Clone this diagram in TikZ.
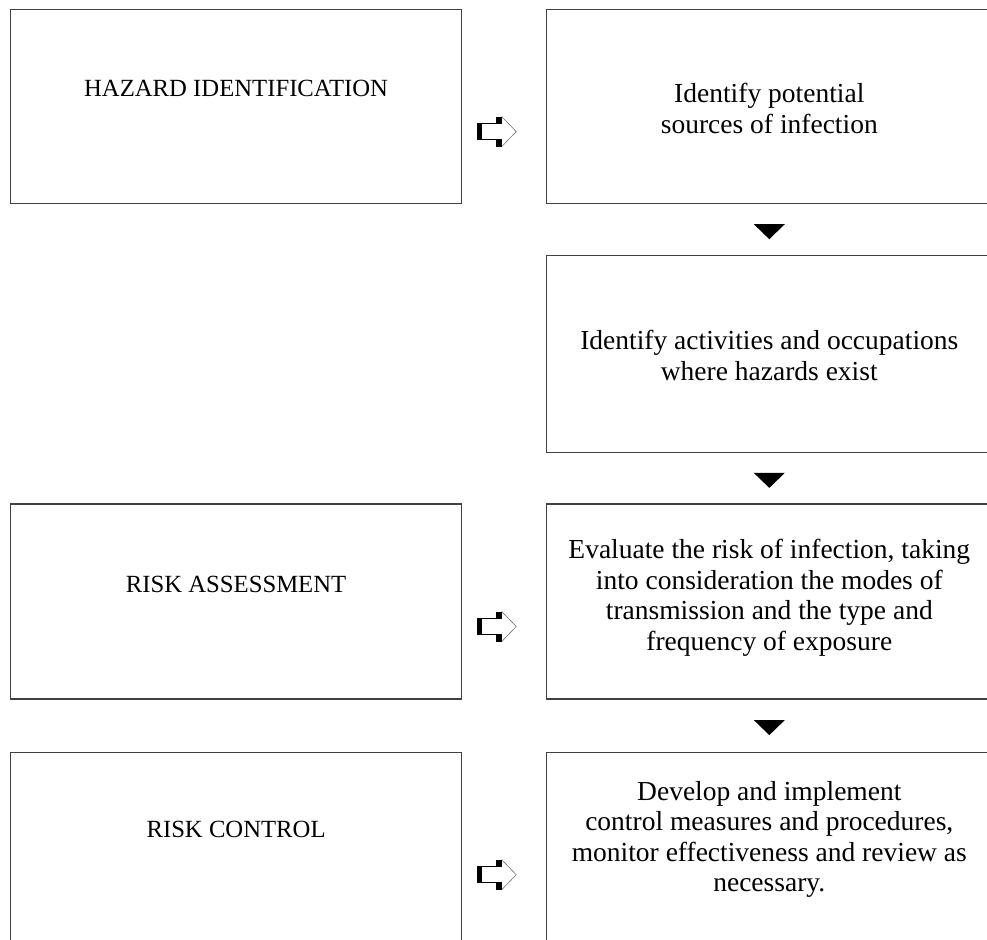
\documentclass[tikz,border=0pt]{standalone}
\usepackage{fontspec}
\setmainfont{Liberation Serif}
\usetikzlibrary{positioning,calc}

\tikzset{
  box/.style={draw=black!75, line width=1.2pt, inner sep=0pt},
  lbox/.style={box, minimum width=451pt},
  rbox/.style={box, minimum width=445pt},
  lbl/.style={font=\fontsize{27.5}{30.5}\selectfont, align=center, inner sep=0pt},
  caps/.style={font=\fontsize{24.7}{30}\selectfont, inner sep=0pt},
  pics/openarrow/.style={code={
    \draw[black!55, line width=0.6pt] (5,-15) -- (19.5,0) -- (5,15);
    \draw[black, line width=1pt] (0,-8) -- (-19.5,-8) -- (-19.5,8) -- (0,8);
    \fill[black] (-19.5,-8.5) rectangle (-15,8.5);
    \fill[black] (-0.5,-15) rectangle (5,-7.5);
    \fill[black] (-0.5,7.5) rectangle (5,15);
  }}
}

\begin{document}
\begin{tikzpicture}[x=1pt,y=-1pt]
\useasboundingbox (0,0) rectangle (987,939);
\clip (0,0) rectangle (987,939);
% boxes
\node[lbox, minimum height=194pt, anchor=north west] (l1) at (10,9) {};
\node[rbox, minimum height=194pt, right=84pt of l1] (r1) {};
\node[rbox, minimum height=197pt, below=51pt of r1] (r2) {};
\node[rbox, minimum height=195pt, below=50pt of r2] (r3) {};
\node[lbox, minimum height=195pt, left=84pt of r3] (l3) {};
\node[rbox, minimum height=195pt, below=52pt of r3] (r4) {};
\node[lbox, minimum height=195pt, left=84pt of r4] (l4) {};
% texts
\node[caps] (hazard) at ($(l1.center)+(0,-18)$) {HAZARD IDENTIFICATION};
\node[caps] (assess) at ($(l3.center)+(0,-17)$) {RISK ASSESSMENT};
\node[caps] (control) at ($(l4.center)+(0,-20)$) {RISK CONTROL};
\node[lbl] (sources) at ($(r1.center)+(0,2)$) {Identify potential\\sources of infection};
\node[lbl] (activities) at ($(r2.center)+(0,1)$) {Identify activities and occupations\\where hazards exist};
\node[lbl] (evaluate) at ($(r3.center)+(0,-3.5)$) {Evaluate the risk of infection, taking\\into consideration the modes of\\transmission and the type and\\frequency of exposure};
\node[lbl] (develop) at ($(r4.center)+(0,-10.5)$) {Develop and implement\\control measures and procedures,\\monitor effectiveness and review as\\necessary.};
% down triangles
\coordinate (t1) at ($(r1.south)!.5!(r2.north)$);
\coordinate (t2) at ($(r2.south)!.5!(r3.north)$);
\coordinate (t3) at ($(r3.south)!.5!(r4.north)$);
\foreach \t in {t1,t2,t3}
  \fill (\t) ++(-15.5,-5.5) -- ++(31,0) -- ++(-15.5,15) -- cycle;
% block arrows
\pic at ($(l1.east)!.5!(r1.west)+(-7.5,25)$) {openarrow};
\pic at ($(l3.east)!.5!(r3.west)+(-7.5,25)$) {openarrow};
\pic at ($(l4.east)!.5!(r4.west)+(-7.5,25)$) {openarrow};
\end{tikzpicture}
\end{document}
